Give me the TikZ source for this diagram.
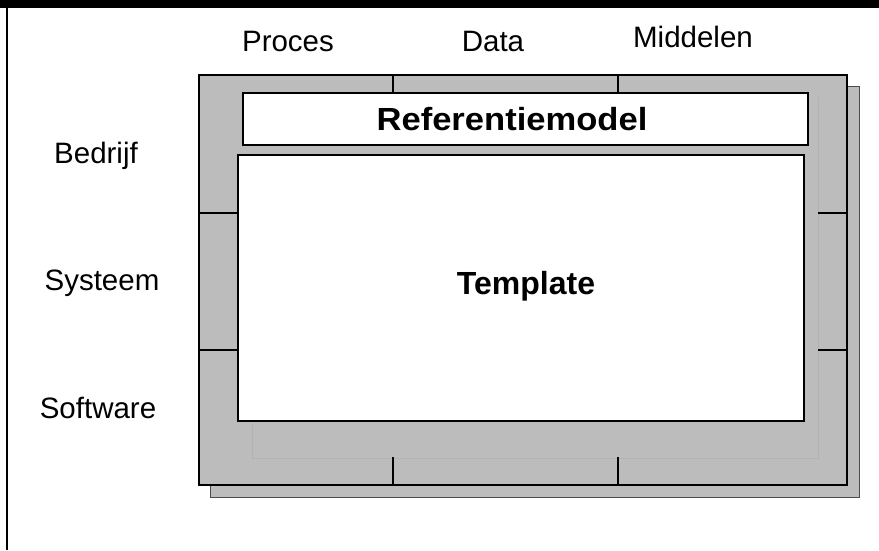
\documentclass[tikz,border=0pt]{standalone}
\usepackage{fontspec}
\setmainfont{Liberation Sans}
\definecolor{scangray}{RGB}{188,188,188}
\begin{document}
\begin{tikzpicture}[x=1pt,y=-1pt,
  lbl/.style={anchor=base,font=\fontsize{29.5}{30}\selectfont},
  title/.style={anchor=base,font=\bfseries\fontsize{32}{32}\selectfont}]
\useasboundingbox (0,0) rectangle (879,550);
\fill[black] (0,0) rectangle (879,8);
\draw[line width=2.5pt] (7,8) -- (7,550);
\filldraw[fill=scangray, draw=black!70, line width=0.8pt] (210,86) rectangle (859,497);
\filldraw[fill=scangray, draw=black, line width=1.6pt] (199,75) rectangle (847,485);
\draw[black!30, line width=0.8pt] (818,97) -- (818,458) -- (252,458) -- (252,424);
\filldraw[fill=white, draw=black, line width=1.6pt] (243,93) rectangle (808,145);
\filldraw[fill=white, draw=black, line width=1.6pt] (238,155) rectangle (804,421);
\foreach \x in {393,618} {
  \draw[line width=1.6pt] (\x,75) -- (\x,93);
  \draw[line width=1.6pt] (\x,457) -- (\x,485);
}
\foreach \y in {213,350} {
  \draw[line width=1.6pt] (199,\y) -- (238,\y);
  \draw[line width=1.6pt] (818,\y) -- (847,\y);
}
\node[lbl] (proces) at (288,51) {Proces};
\node[lbl] (data) at (493,51) {Data};
\node[lbl] (middelen) at (693,47) {Middelen};
\node[lbl] (bedrijf) at (96,163) {Bedrijf};
\node[lbl] (systeem) at (102,290) {Systeem};
\node[lbl] (software) at (98,418) {Software};
\node[title,xscale=1.08] (refmodel) at (512,130) {Referentiemodel};
\node[title] (template) at (526,294) {Template};
\end{tikzpicture}
\end{document}
